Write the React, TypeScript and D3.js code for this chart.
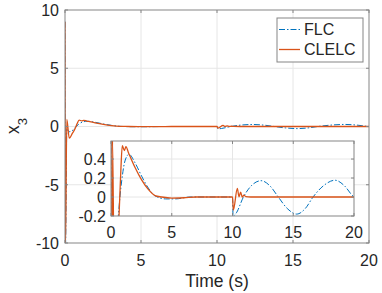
import React from 'react';
import * as d3 from 'd3';

// FLC response (blue dash-dot)
const flcTime = [0, 0.03, 0.12, 0.3, 0.45, 0.6, 0.75, 0.88, 1.15, 1.48, 1.98, 2.52, 3.07, 3.62, 4.5, 5.3, 6.5, 10, 10.05, 10.3, 10.9, 11.6, 12.35, 13.1, 13.77, 14.5, 15.28, 16.0, 16.63, 17.5, 18.44, 19.2, 19.95, 20];
const flcValue = [9, -10.5, -0.25, -0.45, -0.38, -0.2, 0.02, 0.17, 0.38, 0.45, 0.36, 0.22, 0.095, 0.013, -0.02, -0.02, 0, 0, -0.2, -0.17, 0, 0.125, 0.172, 0.115, 0, -0.12, -0.18, -0.12, 0, 0.12, 0.177, 0.12, 0.005, 0];

// CLELC response (orange solid)
const clelcTime = [0, 0.03, 0.12, 0.28, 0.5, 0.66, 0.8, 0.93, 1.1, 1.23, 1.43, 1.98, 2.52, 3.07, 3.62, 4.17, 5, 6, 7, 10, 10.07, 10.4, 10.53, 10.67, 10.8, 10.94, 11.1, 11.5, 20];
const clelcValue = [9, -10.5, 0.62, -1.0, -0.55, -0.2, 0.25, 0.54, 0.49, 0.53, 0.47, 0.31, 0.18, 0.08, 0.015, 0, -0.012, -0.008, 0, 0, -0.137, 0.092, 0.003, 0.05, 0, 0.02, 0.005, 0, 0];

const xTicks = [0, 5, 10, 15, 20];
const mainYTicks = [-10, -5, 0, 5, 10];
const insetYTicks = [-0.2, 0, 0.2, 0.4];
const seriesNames = ['FLC', 'CLELC'];

const blue = '#0072BD';
const orange = '#D95319';
const axisColor = '#858585';
const gridColor = '#e6e6e6';
const textColor = '#262626';
const font = '"Liberation Sans", Arial, Helvetica, sans-serif';

const toPoints = (t: number[], v: number[]) => t.map((d, i) => [d, v[i]] as [number, number]);
const flcData = toPoints(flcTime, flcValue);
const clelcData = toPoints(clelcTime, clelcValue);

const Axes = ({ id, x0, x1, y0, y1, yDomain, yTicks, yLabelX, xLabelY, bg }: any) => {
  const x = d3.scaleLinear().domain([0, 20]).range([x0, x1]);
  const y = d3.scaleLinear().domain(yDomain).range([y1, y0]);
  const line = d3.line<[number, number]>()
    .x(d => x(d[0]))
    .y(d => y(d[1]))
    .curve(d3.curveMonotoneX);
  const inner = yTicks.filter((t: number) => t > yDomain[0] && t < yDomain[1]);
  const innerX = xTicks.filter(t => t > 0 && t < 20);
  return (
    <g>
      <defs>
        <clipPath id={id}>
          <rect x={x0} y={y0} width={x1 - x0} height={y1 - y0} />
        </clipPath>
      </defs>
      {bg && <rect x={x0} y={y0} width={x1 - x0} height={y1 - y0} fill="white" />}
      {/* grid */}
      {innerX.map(t => (
        <line key={'gx' + t} x1={x(t)} x2={x(t)} y1={y0} y2={y1} stroke={gridColor} strokeWidth={1} />
      ))}
      {inner.map((t: number) => (
        <line key={'gy' + t} x1={x0} x2={x1} y1={y(t)} y2={y(t)} stroke={gridColor} strokeWidth={1} />
      ))}
      {/* data */}
      <g clipPath={`url(#${id})`}>
        <path d={line(flcData) || ''} fill="none" stroke={blue} strokeWidth={1} strokeDasharray="6,2,1.5,2" />
        <path d={line(clelcData) || ''} fill="none" stroke={orange} strokeWidth={1.3} />
      </g>
      {/* box + ticks */}
      <rect x={x0} y={y0} width={x1 - x0} height={y1 - y0} fill="none" stroke={axisColor} strokeWidth={1} />
      {xTicks.map(t => (
        <g key={'tx' + t}>
          <line x1={x(t)} x2={x(t)} y1={y1} y2={y1 - 3} stroke={axisColor} />
          <line x1={x(t)} x2={x(t)} y1={y0} y2={y0 + 3} stroke={axisColor} />
          <text x={x(t)} y={xLabelY} textAnchor="middle" fontSize={16} fill={textColor}>{t}</text>
        </g>
      ))}
      {yTicks.map((t: number) => (
        <g key={'ty' + t}>
          <line x1={x0} x2={x0 + 3} y1={y(t)} y2={y(t)} stroke={axisColor} />
          <line x1={x1} x2={x1 - 3} y1={y(t)} y2={y(t)} stroke={axisColor} />
          <text x={yLabelX} y={y(t)} dy="0.36em" textAnchor="end" fontSize={16} fill={textColor}>{t}</text>
        </g>
      ))}
    </g>
  );
};

export default function App() {
  return (
    <svg width={382} height={293} style={{ position: 'absolute', left: 0, top: 0, fontFamily: font }}>
      <rect width={382} height={293} fill="white" />
      <Axes id="mainClip" x0={65} x1={369} y0={10} y1={243} yDomain={[-10, 10]} yTicks={mainYTicks} yLabelX={59} xLabelY={266} />
      <Axes id="insetClip" x0={111} x1={354} y0={141} y1={216} yDomain={[-0.2, 0.59]} yTicks={insetYTicks} yLabelX={106} xLabelY={238} bg />
      {/* axis labels */}
      <text x={217} y={287} textAnchor="middle" fontSize={17.5} fill={textColor}>Time (s)</text>
      <text transform="translate(18.5,126) rotate(-90)" textAnchor="middle" fontSize={17.5} fill={textColor}>
        x<tspan fontSize={13} dy={8}>3</tspan>
      </text>
      {/* legend */}
      <rect x={277} y={18} width={86} height={44} fill="white" stroke={axisColor} strokeWidth={1} />
      {seriesNames.map((name, i) => (
        <g key={name}>
          <line x1={279} x2={300} y1={29.5 + i * 20} y2={29.5 + i * 20}
            stroke={i === 0 ? blue : orange} strokeWidth={i === 0 ? 1 : 1.3}
            strokeDasharray={i === 0 ? '6,2,1.5,2' : undefined} />
          <text x={304} y={35 + i * 20} fontSize={16} fill={textColor}>{name}</text>
        </g>
      ))}
    </svg>
  );
}
